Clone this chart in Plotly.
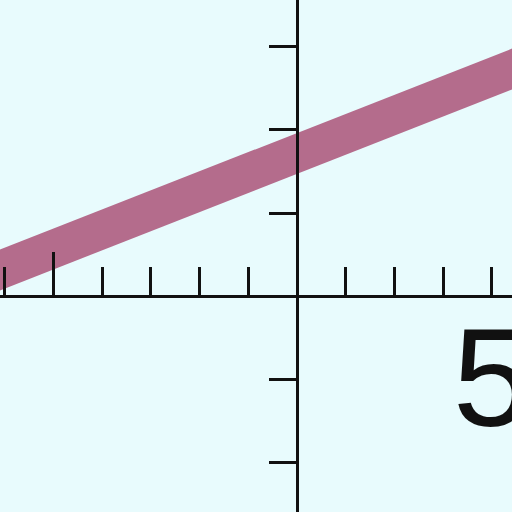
import plotly.graph_objects as go

# data
line_x = [-8.0, 6.0]
line_y = [0.243, 2.823]
x_ticks = [-7.5, -6.25, -5.0, -3.75, -2.5, -1.25, 1.25, 2.5, 3.75, 5.0]
x_tick_text = ["", "", "", "", "", "", "", "", "", "5"]
x_major_tick = [-6.25]
y_ticks = [-2, -1, 1, 2, 3]

X_RANGE = [-7.62, 5.52]
Y_RANGE = [-2.602, 3.566]

fig = go.Figure()
fig.add_trace(go.Scatter(x=line_x, y=line_y, mode="lines",
                         line=dict(color="#b46c8c", width=38),
                         hoverinfo="skip", showlegend=False))
fig.add_trace(go.Scatter(x=[0], y=[0], xaxis="x2", mode="markers",
                         marker=dict(opacity=0), hoverinfo="skip", showlegend=False))

fig.update_layout(
    width=512, height=512,
    margin=dict(l=0, r=0, t=0, b=0, autoexpand=False),
    paper_bgcolor="#e8fbfd", plot_bgcolor="#e8fbfd",
    xaxis=dict(range=X_RANGE, anchor="free", position=216/512, automargin=False,
               showgrid=False, zeroline=False,
               showline=True, linecolor="#111111", linewidth=3,
               tickmode="array", tickvals=x_ticks, ticktext=x_tick_text,
               ticks="inside", ticklen=28, tickwidth=3, tickcolor="#111111",
               ticklabeloverflow="allow", ticklabelstandoff=-40,
               tickfont=dict(family="Liberation Sans, Arial", size=140, color="#111111")),
    xaxis2=dict(range=X_RANGE, overlaying="x", anchor="free", position=216/512,
                automargin=False,
                showgrid=False, zeroline=False, showline=False,
                tickmode="array", tickvals=x_major_tick, showticklabels=False,
                ticks="inside", ticklen=44, tickwidth=3, tickcolor="#111111"),
    yaxis=dict(range=Y_RANGE, anchor="free", position=297/512, automargin=False,
               showgrid=False, zeroline=False,
               showline=True, linecolor="#111111", linewidth=3,
               tickmode="array", tickvals=y_ticks, showticklabels=False,
               ticks="outside", ticklen=27, tickwidth=3, tickcolor="#111111"),
)

fig.write_html("out.html", config={"displayModeBar": False},
               post_script="document.body.style.margin='0';document.body.style.overflow='hidden';")
